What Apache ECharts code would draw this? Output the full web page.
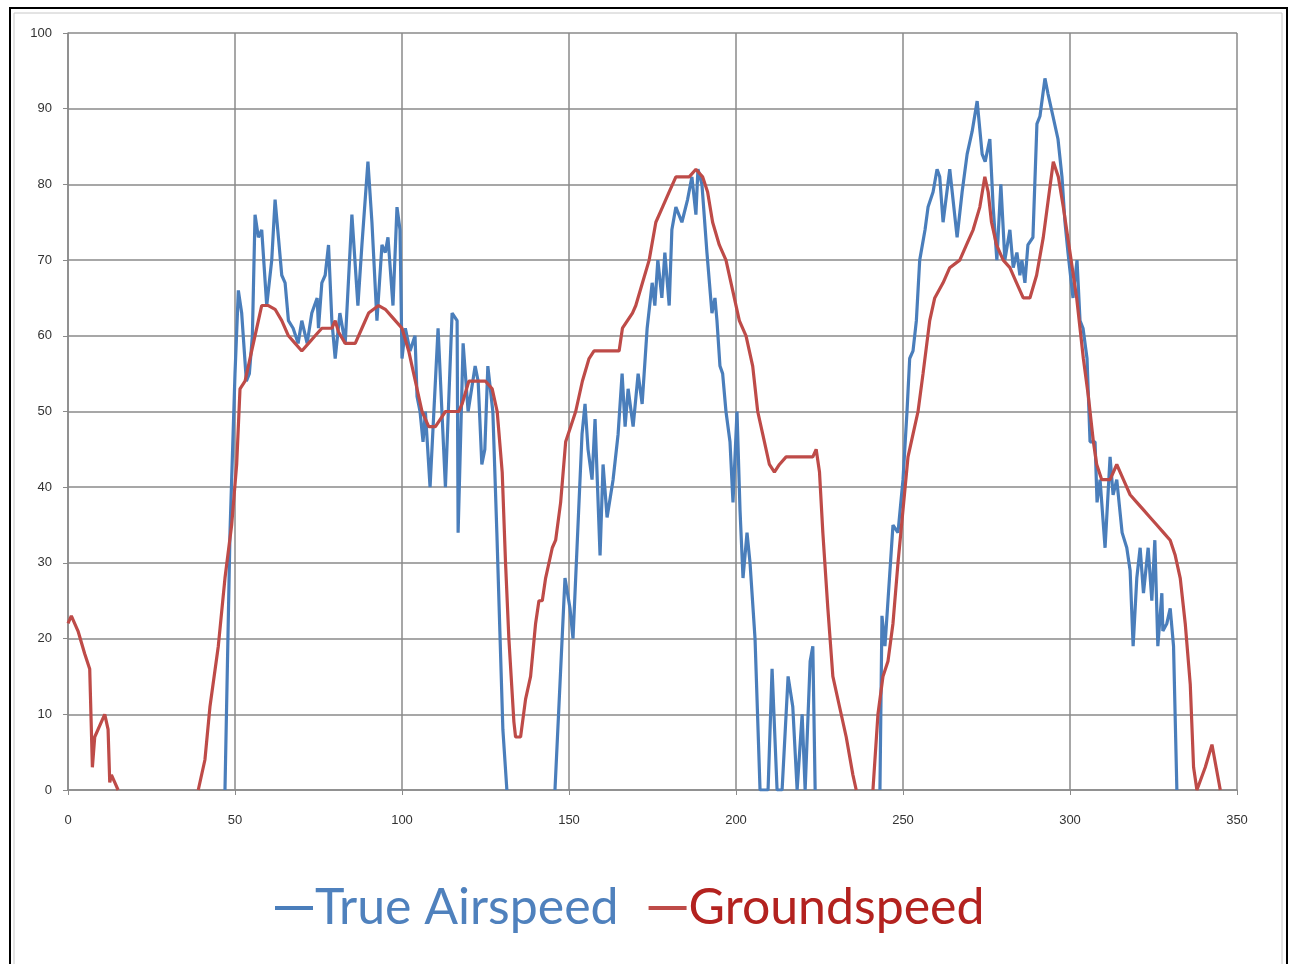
<!DOCTYPE html>
<html>
<head>
<meta charset="utf-8">
<script src="https://cdn.jsdelivr.net/npm/echarts@6/dist/echarts.min.js"></script>
<style>
html,body{margin:0;padding:0;background:#fff;}
#chart{width:1291px;height:964px;}
</style>
</head>
<body>
<div id="chart"></div>
<script>
// ---- data (x = time, y = speed); null marks a gap ----
var xTicks = [0, 50, 100, 150, 200, 250, 300, 350];
var yTicks = [0, 10, 20, 30, 40, 50, 60, 70, 80, 90, 100];

var trueAirspeed = [
  [47,0],[48.5,34],[50,55],[51,66],[52,63],[53.4,54],[54.3,55],[55.2,60],[56,76],[57,73],[58,74],[59.5,64],[61,70],[62,78],[63,73],[64,68],[65,67],[66,62],[67.4,61],[68.9,59],[70,62],[71.6,59],[73,63],[74.6,65],[75,61],[76,67],[77,68],[78,72],[79,62],[80,57],[81.4,63],[83,59],[85,76],[86.8,64],[88,72],[89.8,83],[91,75],[92.5,62],[94,72],[95,71],[95.8,73],[97.3,64],[98.5,77],[99.4,74],[100,57],[101,61],[102.4,58],[103.9,60],[104.5,52],[105.4,50],[106.3,46],[107,50],[108.4,40],[110.8,61],[113,40],[115,63],[116.5,62],[116.8,34],[118.3,59],[119.8,50],[121.9,56],[122.8,54],[123.9,43],[124.8,45],[125.7,56],[127.2,50],[128.4,34],[129.3,21],[130.2,8],[131.4,0],
  [138,null],
  [145.8,0],[148.8,28],[150.3,24],[151.2,20],[152.4,32],[153.9,47],[154.8,51],[155.7,45],[156.9,41],[157.8,49],[159.3,31],[160.2,43],[161.4,36],[163.2,41],[164.7,47],[165.9,55],[166.8,48],[167.7,53],[169.2,48],[170.7,55],[171.9,51],[173.4,61],[174.9,67],[175.7,64],[176.6,70],[177.8,65],[178.7,71],[180,64],[180.8,74],[182,77],[183.8,75],[185.5,78],[186.8,81],[188,76],[188.6,82],[189.8,80],[191.3,71],[192.8,63],[193.7,65],[194.3,62],[195.2,56],[196,55],[197,50],[198.2,46],[199.1,38],[200.3,50],[201.2,37],[202.1,28],[203.3,34],[204.2,30],[205.7,20],[207.2,0],[209.6,0],[210.8,16],[212.3,0],[213.8,0],[215.6,15],[217,11],[218.3,0],[219.8,10],[220.7,0],[222.2,17],[223,19],[223.7,0],
  [233,null],
  [243.1,0],[243.7,23],[244.6,19],[245.5,25],[247,35],[248.5,34],[250,41],[251.2,50],[252,57],[253,58],[254,62],[255,70],[256.6,74],[257.5,77],[259,79],[260.2,82],[261,81],[262,75],[264,82],[266.2,73],[267.7,79],[269.2,84],[270.7,87],[272.2,91],[273.7,84],[274.6,83],[276,86],[277,77],[278.1,70],[279.3,80],[280.5,70],[282,74],[283,69],[284.1,71],[285,68],[285.6,70],[286.5,67],[287.4,72],[288.9,73],[290.1,88],[291,89],[292.5,94],[293.4,92],[294.9,89],[296.4,86],[297.6,81],[298.5,75],[299.4,71],[300.9,65],[302.1,70],[303,62],[303.9,61],[305.1,57],[306,46],[307.5,46],[308.1,38],[309,41],[310.5,32],[312,44],[312.9,39],[314,41],[315.6,34],[317,32],[318,29],[318.9,19],[320,28],[321,32],[322,26],[323.4,32],[324.5,25],[325.4,33],[326.3,19],[327.5,26],[327.8,21],[329,22],[330,24],[331,19],[332,0]
];

var groundspeed = [
  [0,22],[1,23],[3,21],[5,18],[6.5,16],[7.3,3],[8,7],[10,9],[11,10],[12,8],[12.5,1],[13,2],[14,1],[15,0],
  [27,null],
  [39,0],[41,4],[42.5,11],[45,19],[47,28],[49,35],[50.5,43],[51.5,53],[53,54],[55,58],[57,62],[58,64],[60,64],[62,63.5],[64,62],[66,60],[68,59],[70,58],[72,59],[74,60],[76,61],[79,61],[80,62],[81,60.5],[83,59],[86,59],[88,61],[90,63],[93,64],[95,63.5],[97,62.5],[100,61],[102,58],[104,54],[106,50],[108,48],[110,48],[111.5,49],[113,50],[115,50],[117,50],[118,51],[120,54],[125,54],[127,53],[128.5,50],[130,42],[131,30],[132,20],[133.5,9],[134,7],[135.5,7],[137,12],[138.5,15],[140,22],[141,25],[142,25],[143,28],[145,32],[146,33],[147.5,38],[149,46],[150.5,48],[152,50],[154,54],[156,57],[157.5,58],[165,58],[166,61],[167.5,62],[169,63],[170,64],[172,67],[174,70],[176,75],[178,77],[180,79],[182,81],[184,81],[186,81],[188,82],[190,81],[191.5,79],[193,75],[195,72],[197,70],[199,66],[201,62],[203,60],[205,56],[206.5,50],[208,47],[210,43],[211.5,42],[213,43],[215,44],[223,44],[224,45],[225,42],[226,34],[227.5,24],[229,15],[231,11],[233,7],[235,2],[236,0],
  [238.5,null],
  [241,0],[242.5,10],[244,15],[245.5,17],[247,22],[248.5,30],[250,37],[251.5,44],[253,47],[254.5,50],[256,55],[258,62],[259.5,65],[262,67],[264,69],[267,70],[269,72],[271,74],[273,77],[274.5,81],[275.5,79],[276.5,75],[278,72],[280,70],[282,69],[284,67],[286,65],[288,65],[290,68],[292,73],[293.5,78],[295,83],[296.5,81],[298,77],[300,71],[302,65],[304,57],[305.5,52],[307,46],[308,43],[309.5,41],[312,41],[314,43],[316,41],[318,39],[320,38],[322,37],[324,36],[326,35],[328,34],[330,33],[331.5,31],[333,28],[334.5,22],[336,14],[337,3],[338,0],[340.5,3],[342.5,6],[345,0]
];

var seriesNames = ['True Airspeed', 'Groundspeed'];

var chart = echarts.init(document.getElementById('chart'), null, {renderer: 'canvas'});
var axisLabelStyle = {color: '#333', fontSize: 13, fontFamily: 'Liberation Sans, Arial, sans-serif'};
chart.setOption({
  backgroundColor: '#fff',
  animation: false,
  graphic: [
    {type: 'rect', shape: {x: 10, y: 8, width: 1277, height: 962}, style: {fill: 'none', stroke: '#000', lineWidth: 2}, silent: true},
    {type: 'rect', shape: {x: 14, y: 13, width: 1268, height: 960}, style: {fill: 'none', stroke: '#c8c8c8', lineWidth: 1}, silent: true}
  ],
  grid: {left: 68, right: 54, top: 33, bottom: 174, containLabel: false},
  xAxis: {
    type: 'value', min: 0, max: 350, interval: 50,
    axisLine: {show: true, lineStyle: {color: '#8a8a8a', width: 1.5}},
    axisTick: {show: true, length: 5, lineStyle: {color: '#8a8a8a'}},
    splitLine: {show: true, lineStyle: {color: '#8a8a8a', width: 1.5}},
    axisLabel: Object.assign({margin: 24, formatter: function(v){ return xTicks.indexOf(v) >= 0 ? String(v) : ''; }}, axisLabelStyle)
  },
  yAxis: {
    type: 'value', min: 0, max: 100, interval: 10,
    axisLine: {show: true, lineStyle: {color: '#8a8a8a', width: 1.5}},
    axisTick: {show: true, length: 5, lineStyle: {color: '#8a8a8a'}},
    splitLine: {show: true, lineStyle: {color: '#8a8a8a', width: 1.5}},
    axisLabel: Object.assign({margin: 16, formatter: function(v){ return yTicks.indexOf(v) >= 0 ? String(v) : ''; }}, axisLabelStyle)
  },
  legend: {
    left: 270, top: 878,
    itemGap: 30, itemWidth: 38, itemHeight: 4, icon: 'rect',
    textStyle: {fontFamily: 'Lato, sans-serif', fontSize: 50, padding: [0,0,0,-3]},
    data: [
      {name: seriesNames[0], textStyle: {color: '#4F81BD'}},
      {name: seriesNames[1], textStyle: {color: '#B3221F'}}
    ]
  },
  series: [
    {name: seriesNames[0], type: 'line', data: trueAirspeed, showSymbol: false, symbol: 'none', connectNulls: false,
     lineStyle: {color: '#4A7EBB', width: 3.2}, itemStyle: {color: '#4A7EBB'}, z: 2},
    {name: seriesNames[1], type: 'line', data: groundspeed, showSymbol: false, symbol: 'none', connectNulls: false,
     lineStyle: {color: '#BE4B48', width: 3.2}, itemStyle: {color: '#BE4B48'}, z: 3}
  ]
});
</script>
</body>
</html>
